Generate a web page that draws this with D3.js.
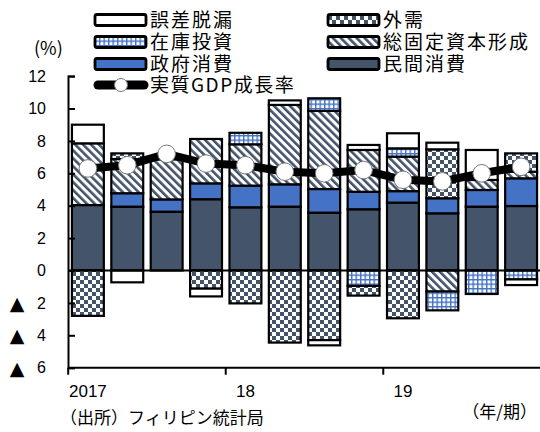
<!DOCTYPE html>
<html><head><meta charset="utf-8">
<script src="https://cdn.jsdelivr.net/npm/d3@7"></script>
<style>
html,body{margin:0;padding:0;background:#fff;}
svg{display:block;}
</style></head>
<body>
<script>
const quarters = ["2017Q1","2017Q2","2017Q3","2017Q4","2018Q1","2018Q2","2018Q3","2018Q4","2019Q1","2019Q2","2019Q3","2019Q4"];
const yearLabels = ["2017","18","19"];
const yearStartQuarters = ["2017Q1","2018Q1","2019Q1"];
const yTicks = [12,10,8,6,4,2,0,-2,-4,-6];

const privateConsumption = [4.04, 3.94, 3.63, 4.40, 3.90, 3.94, 3.57, 3.78, 4.19, 3.53, 3.94, 3.98];
const govConsumption     = [0.00, 0.83, 0.76, 0.98, 1.34, 1.38, 1.46, 1.08, 0.71, 0.93, 1.03, 1.71];
const gfcf               = [3.81, 2.11, 2.46, 2.74, 2.55, 4.90, 4.82, 2.58, 2.13, -1.30, 0.62, 0.41];
const inventory          = [0.00, 0.00, 0.00, 0.00, 0.71, 0.00, 0.78, -0.95, 0.51, -1.16, -1.45, -0.55];
const externalDemand     = [-2.80, 0.35, 0.00, -1.12, -2.03, -4.45, -4.30, -0.60, -2.95, 3.02, 0.00, 1.13];
const statDiscrepancy    = [1.15, -0.73, 0.00, -0.48, 0.00, 0.28, -0.32, 0.31, 0.93, 0.41, 1.85, -0.35];
const gdpGrowth          = [6.3, 6.5, 7.2, 6.6, 6.5, 6.1, 6.0, 6.2, 5.6, 5.5, 6.0, 6.4];

const seriesKeys = ["private","gov","gfcf","inv","ext","err"];
const seriesNames = {private:"民間消費", gov:"政府消費", gfcf:"総固定資本形成", inv:"在庫投資", ext:"外需", err:"誤差脱漏"};
const seriesArrays = {private:privateConsumption, gov:govConsumption, gfcf:gfcf, inv:inventory, ext:externalDemand, err:statDiscrepancy};

const W = 540, H = 432;
const svg = d3.select("body").append("svg").attr("width", W).attr("height", H);

// patterns
const defs = svg.append("defs");
const dark = "#44546a", blue = "#4472c4";
const hatch = defs.append("pattern").attr("id","hatch").attr("patternUnits","userSpaceOnUse")
  .attr("width",5.6).attr("height",5.6).attr("patternTransform","rotate(-45)");
hatch.append("rect").attr("width",5.6).attr("height",5.6).attr("fill","#fff");
hatch.append("rect").attr("x",0).attr("y",0).attr("width",2.6).attr("height",5.6).attr("fill",dark);
const checker = defs.append("pattern").attr("id","checker").attr("patternUnits","userSpaceOnUse")
  .attr("width",8).attr("height",8);
checker.append("rect").attr("width",8).attr("height",8).attr("fill","#fff");
checker.append("rect").attr("x",0).attr("y",0).attr("width",4).attr("height",4).attr("fill",dark);
checker.append("rect").attr("x",4).attr("y",4).attr("width",4).attr("height",4).attr("fill",dark);
const grid = defs.append("pattern").attr("id","grid").attr("patternUnits","userSpaceOnUse")
  .attr("width",4.5).attr("height",4.5);
grid.append("rect").attr("width",4.5).attr("height",4.5).attr("fill","#fff");
grid.append("rect").attr("x",0).attr("y",0).attr("width",4.5).attr("height",1.4).attr("fill",blue);
grid.append("rect").attr("x",0).attr("y",0).attr("width",1.4).attr("height",4.5).attr("fill",blue);

const fills = {private:dark, gov:blue, gfcf:"url(#hatch)", inv:"url(#grid)", ext:"url(#checker)", err:"#fff"};

const x = d3.scaleBand().domain(quarters).range([68, 541]).paddingInner(0.19).paddingOuter(0.1);
const y = d3.scaleLinear().domain([-6, 12]).range([367.7, 76.1]);

const table = quarters.map((q,i) => {
  const o = {q};
  seriesKeys.forEach(k => o[k] = seriesArrays[k][i]);
  return o;
});
const stacked = d3.stack().keys(seriesKeys).offset(d3.stackOffsetDiverging)(table);

const barsG = svg.append("g");
stacked.forEach(s => {
  barsG.append("g").selectAll("rect")
    .data(s.filter(d => Math.abs(d[1]-d[0]) > 0.01))
    .join("rect")
    .attr("x", d => x(d.data.q))
    .attr("width", x.bandwidth())
    .attr("y", d => y(Math.max(d[0], d[1])))
    .attr("height", d => Math.abs(y(d[0]) - y(d[1])))
    .attr("fill", fills[s.key])
    .attr("stroke", "#000")
    .attr("stroke-width", 2.2);
});

// zero line
svg.append("line").attr("x1", 68).attr("x2", 541).attr("y1", y(0)).attr("y2", y(0))
  .attr("stroke","#000").attr("stroke-width",2);

// GDP line
const line = d3.line().x((d,i) => x(quarters[i]) + x.bandwidth()/2).y(d => y(d));
svg.append("path").datum(gdpGrowth).attr("d", line).attr("fill","none")
  .attr("stroke","#000").attr("stroke-width",8);
svg.append("g").selectAll("circle").data(gdpGrowth).join("circle")
  .attr("cx", (d,i) => x(quarters[i]) + x.bandwidth()/2)
  .attr("cy", d => y(d)).attr("r", 8.8)
  .attr("fill","#fff").attr("stroke","#777").attr("stroke-width",1);

// y axis
const yAxis = d3.axisLeft(y).tickValues(yTicks).tickSize(-7).tickFormat("");
const yg = svg.append("g").attr("transform","translate(68,0)").call(yAxis);
yg.select(".domain").attr("stroke","#000").attr("stroke-width",2);
yg.selectAll(".tick line").attr("stroke","#000").attr("stroke-width",2);
const ylab = svg.append("g").attr("font-family","Liberation Sans, Arial, sans-serif").attr("font-size",16).attr("fill","#000");
ylab.selectAll("text.num").data(yTicks).join("text").attr("class","num")
  .attr("x", 46).attr("y", d => y(d)).attr("dy","0.36em").attr("text-anchor","end")
  .text(d => Math.abs(d));
ylab.selectAll("text.tri").data(yTicks.filter(d => d < 0)).join("text").attr("class","tri")
  .attr("x", 17).attr("y", d => y(d)).attr("dy","0.36em").attr("text-anchor","middle")
  .attr("font-family","DejaVu Sans, sans-serif").attr("font-size",19)
  .text("▲");

// x axis
const xg = svg.append("g");
xg.append("line").attr("x1",68).attr("x2",541).attr("y1",y(-6)).attr("y2",y(-6))
  .attr("stroke","#000").attr("stroke-width",2);
const stepPad = x.step()*x.paddingInner()/2;
xg.selectAll("line.tk").data(yearStartQuarters).join("line").attr("class","tk")
  .attr("x1", d => x(d) - stepPad).attr("x2", d => x(d) - stepPad)
  .attr("y1", y(-6)).attr("y2", y(-6) + 7).attr("stroke","#000").attr("stroke-width",2);
xg.selectAll("text").data(yearLabels).join("text")
  .attr("x", (d,i) => x(yearStartQuarters[i]) + x.bandwidth()/2)
  .attr("y", 391).attr("dy","0.36em").attr("text-anchor","middle")
  .attr("font-family","Liberation Sans, Arial, sans-serif").attr("font-size",17)
  .text(d => d);

// legend background
svg.append("rect").attr("x",85).attr("y",0).attr("width",455).attr("height",89).attr("fill","#fff");
const jp = "Noto Sans CJK JP, sans-serif";
const legendItems = [
  {key:"err", col:0, row:0}, {key:"ext", col:1, row:0},
  {key:"inv", col:0, row:1}, {key:"gfcf", col:1, row:1},
  {key:"gov", col:0, row:2}, {key:"private", col:1, row:2}
];
const colX = [95, 328], rowY = [20, 42, 64, 85];
const lg = svg.append("g");
legendItems.forEach(it => {
  const gx = colX[it.col], gy = rowY[it.row];
  lg.append("rect").attr("x", gx).attr("y", gy - 5.5).attr("width", 51).attr("height", 11)
    .attr("rx", 2).attr("fill", fills[it.key]).attr("stroke","#000").attr("stroke-width",2.8);
  lg.append("text").attr("x", gx + 55).attr("y", gy).attr("dy","0.36em")
    .attr("font-family", jp).attr("font-size", 19).attr("letter-spacing", 2).text(seriesNames[it.key]);
});
lg.append("line").attr("x1", 98).attr("x2", 144).attr("y1", rowY[3]).attr("y2", rowY[3])
  .attr("stroke","#000").attr("stroke-width",9).attr("stroke-linecap","round");
lg.append("circle").attr("cx", 121).attr("cy", rowY[3]).attr("r", 6.5)
  .attr("fill","#fff").attr("stroke","#777").attr("stroke-width",1);
lg.append("text").attr("x", 150).attr("y", rowY[3]).attr("dy","0.36em")
  .attr("font-family", jp).attr("font-size", 19).attr("letter-spacing", 1.5).text("実質GDP成長率");

// other text
svg.append("text").attr("x", 34).attr("y", 49).attr("dy","0.36em")
  .attr("font-family", jp).attr("font-size", 18).text("(%)");
svg.append("text").attr("x", 60).attr("y", 418).attr("dy","0.36em")
  .attr("font-family", jp).attr("font-size", 17).text("（出所）フィリピン統計局");
svg.append("text").attr("x", 537).attr("y", 412).attr("dy","0.36em").attr("text-anchor","end")
  .attr("font-family", jp).attr("font-size", 17).text("（年/期）");
</script>
</body></html>
